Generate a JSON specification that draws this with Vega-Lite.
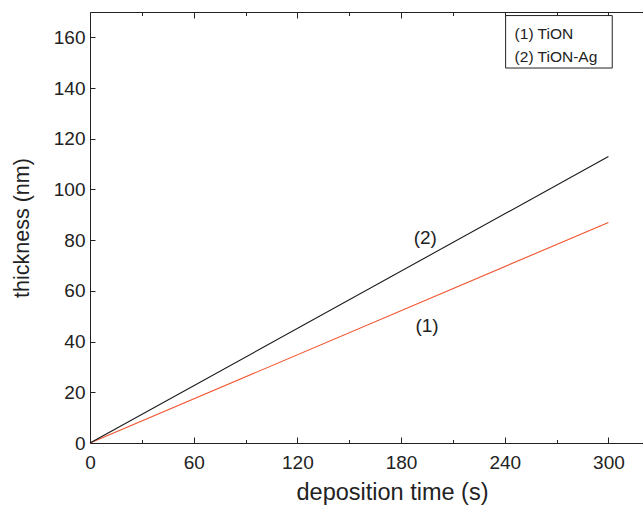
{
  "$schema": "https://vega.github.io/schema/vega-lite/v6.json",
  "width": 553,
  "height": 431,
  "autosize": {"type": "none"},
  "padding": {"left": 90, "top": 12, "right": 0, "bottom": 63},
  "background": "white",
  "config": {
    "view": {"stroke": null},
    "font": "Liberation Sans",
    "axis": {
      "grid": false,
      "domainColor": "#222222",
      "tickColor": "#222222",
      "labelColor": "#222222",
      "titleColor": "#222222",
      "labelFont": "Liberation Sans",
      "titleFont": "Liberation Sans",
      "titleFontWeight": "normal",
      "labelFontSize": 19
    }
  },
  "datasets": {
    "lines": [
      {"series": "(1) TiON", "t": 0, "thickness": 0},
      {"series": "(1) TiON", "t": 300, "thickness": 87},
      {"series": "(2) TiON-Ag", "t": 0, "thickness": 0},
      {"series": "(2) TiON-Ag", "t": 300, "thickness": 113}
    ],
    "labels": [
      {"label": "(2)", "t": 194, "thickness": 81},
      {"label": "(1)", "t": 195, "thickness": 46}
    ],
    "legendBox": [{"t1": 240.5, "t2": 302.2, "v1": 147.9, "v2": 168.6}],
    "legendText": [
      {"label": "(1) TiON", "t": 245.7, "thickness": 161.5},
      {"label": "(2) TiON-Ag", "t": 245.7, "thickness": 152.2}
    ]
  },
  "layer": [
    {
      "data": {"name": "lines"},
      "mark": {"type": "line", "strokeWidth": 1.1},
      "encoding": {
        "x": {
          "field": "t", "type": "quantitative",
          "scale": {"domain": [0, 320], "nice": false},
          "axis": {
            "orient": "bottom",
            "title": "deposition time (s)",
            "titleFontSize": 23.5,
            "titleBaseline": "alphabetic",
            "titleAlign": "center",
            "titleX": 302,
            "titleY": 56,
            "values": [0, 30, 60, 90, 120, 150, 180, 210, 240, 270, 300],
            "labelExpr": "datum.value % 60 === 0 ? datum.label : ''",
            "tickSize": {"condition": {"test": "datum.value % 60 === 0", "value": -6}, "value": -3.5},
            "labelPadding": 16,
            "labelFlush": false,
            "labelOverlap": false
          }
        },
        "y": {
          "field": "thickness", "type": "quantitative",
          "scale": {"domain": [0, 170], "nice": false},
          "axis": {
            "title": "thickness (nm)",
            "titleFontSize": 21.5,
            "titlePadding": 20,
            "values": [0, 10, 20, 30, 40, 50, 60, 70, 80, 90, 100, 110, 120, 130, 140, 150, 160, 170],
            "labelExpr": "datum.value % 20 === 0 ? datum.label : ''",
            "tickSize": {"condition": {"test": "datum.value % 20 === 0", "value": -5}, "value": -3},
            "labelPadding": 10,
            "labelFlush": false,
            "labelOverlap": false
          }
        },
        "color": {
          "field": "series", "type": "nominal",
          "scale": {"domain": ["(1) TiON", "(2) TiON-Ag"], "range": ["#f2532e", "#1a1a1a"]},
          "legend": null
        }
      }
    },
    {
      "data": {"name": "labels"},
      "mark": {"type": "text", "fontSize": 19, "font": "Liberation Sans", "color": "#222222", "align": "center", "baseline": "middle"},
      "encoding": {
        "x": {"field": "t", "type": "quantitative", "axis": null},
        "y": {"field": "thickness", "type": "quantitative"},
        "text": {"field": "label"}
      }
    },
    {
      "data": {"name": "legendBox"},
      "mark": {"type": "rect", "fill": "white", "stroke": "#222222", "strokeWidth": 1},
      "encoding": {
        "x": {
          "field": "t1", "type": "quantitative",
          "axis": {
            "orient": "top",
            "title": null,
            "labels": false,
            "values": [0, 30, 60, 90, 120, 150, 180, 210, 240, 270, 300],
            "tickSize": {"condition": {"test": "datum.value % 60 === 0", "value": -6}, "value": -3.5}
          }
        },
        "x2": {"field": "t2"},
        "y": {"field": "v1", "type": "quantitative"},
        "y2": {"field": "v2"}
      }
    },
    {
      "data": {"name": "legendText"},
      "mark": {"type": "text", "fontSize": 15.5, "font": "Liberation Sans", "color": "#222222", "align": "left", "baseline": "middle"},
      "encoding": {
        "x": {"field": "t", "type": "quantitative", "axis": null},
        "y": {"field": "thickness", "type": "quantitative"},
        "text": {"field": "label"}
      }
    }
  ],
  "resolve": {"axis": {"x": "independent"}}
}
